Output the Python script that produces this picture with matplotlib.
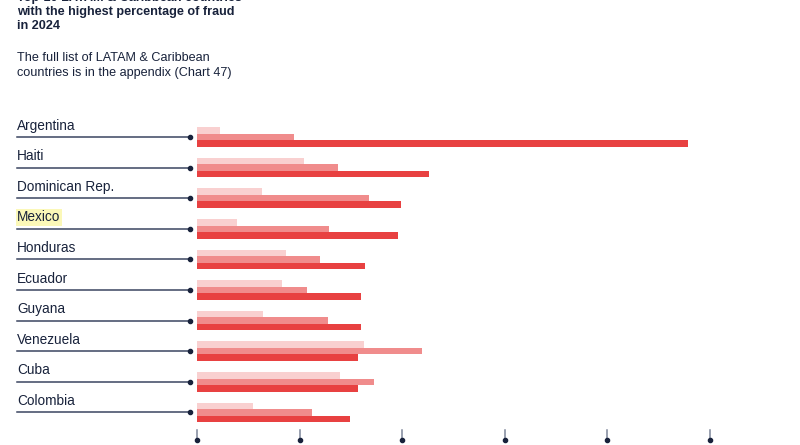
import numpy as np
import matplotlib
matplotlib.use("Agg")
import matplotlib.pyplot as plt
import matplotlib.transforms as mtransforms

plt.rcParams['font.family'] = ['Liberation Sans', 'DejaVu Sans']

# data (axis units = tick steps, tick labels are cut off)
countries = ['Argentina', 'Haiti', 'Dominican Rep.', 'Mexico', 'Honduras',
             'Ecuador', 'Guyana', 'Venezuela', 'Cuba', 'Colombia']
fraud_light = [0.22, 1.04, 0.63, 0.39, 0.87, 0.83, 0.64, 1.63, 1.39, 0.55]
fraud_mid = [0.95, 1.37, 1.68, 1.29, 1.20, 1.07, 1.28, 2.19, 1.73, 1.12]
fraud_dark = [4.79, 2.26, 1.99, 1.96, 1.64, 1.60, 1.60, 1.57, 1.57, 1.49]
xticks = [0, 1, 2, 3, 4, 5]

title_lines = ['Top-10 LATAM & Caribbean countries',
               'with the highest percentage of fraud',
               'in 2024']
subtitle_lines = ['The full list of LATAM & Caribbean',
                  'countries is in the appendix (Chart 47)']

navy = '#18223b'
c_light = '#f9d0d0'
c_mid = '#f08c8c'
c_dark = '#e84141'

W, H = 800, 445
fig = plt.figure(figsize=(8, 4.45), dpi=100)

# axes: x=0 at px 197, x=5 at px 710; rows every ~30.6 px starting at 137
top_px, bot_px = 100, 441
ax = fig.add_axes([197 / W, (H - bot_px) / H, 513 / W, (bot_px - top_px) / H])
ax.set_xlim(0, 5)
row_step = 30.6
ax.set_ylim((bot_px - 137) / row_step, (top_px - 137) / row_step)
ax.axis('off')

y = np.arange(len(countries))
bh = 0.215
ax.barh(y - bh, fraud_light, height=bh, color=c_light)
ax.barh(y, fraud_mid, height=bh, color=c_mid)
ax.barh(y + bh, fraud_dark, height=bh, color=c_dark)

# left connector lines with labels
tr = mtransforms.blended_transform_factory(fig.transFigure, ax.transData)
for i, name in enumerate(countries):
    ax.plot([17 / W, 190 / W], [i, i], color='#3b4560', lw=1.1,
            transform=tr, clip_on=False)
    ax.plot([190 / W], [i], 'o', color=navy, ms=3, transform=tr, clip_on=False)
    kw = {}
    if name == 'Mexico':
        kw['bbox'] = dict(boxstyle='square,pad=0.1', fc='#fbf8b8', ec='none')
    ax.text(17 / W, i - 0.37, name, transform=tr, fontsize=9.8, color=navy,
            va='center', ha='left', **kw)

# bottom ticks with dots
trx = mtransforms.blended_transform_factory(ax.transData, ax.transAxes)
tick_h = 11 / (bot_px - top_px)
for t in xticks:
    ax.plot([t, t], [0, tick_h], color='#7d869a', lw=1.1, transform=trx, clip_on=False)
    ax.plot([t], [0.004], 'o', color=navy, ms=3, transform=trx, clip_on=False)

# title (top line is cut by the frame, as in the original) and subtitle
for k, line in enumerate(title_lines):
    fig.text(17 / W, 1 - (-2 + 14 * k) / H, line, fontsize=9.1, fontweight='bold',
             color=navy, va='center', ha='left')
for k, line in enumerate(subtitle_lines):
    fig.text(17 / W, 1 - (58 + 15 * k) / H, line, fontsize=9.1,
             color=navy, va='center', ha='left')

fig.savefig('out.png', dpi=100)
